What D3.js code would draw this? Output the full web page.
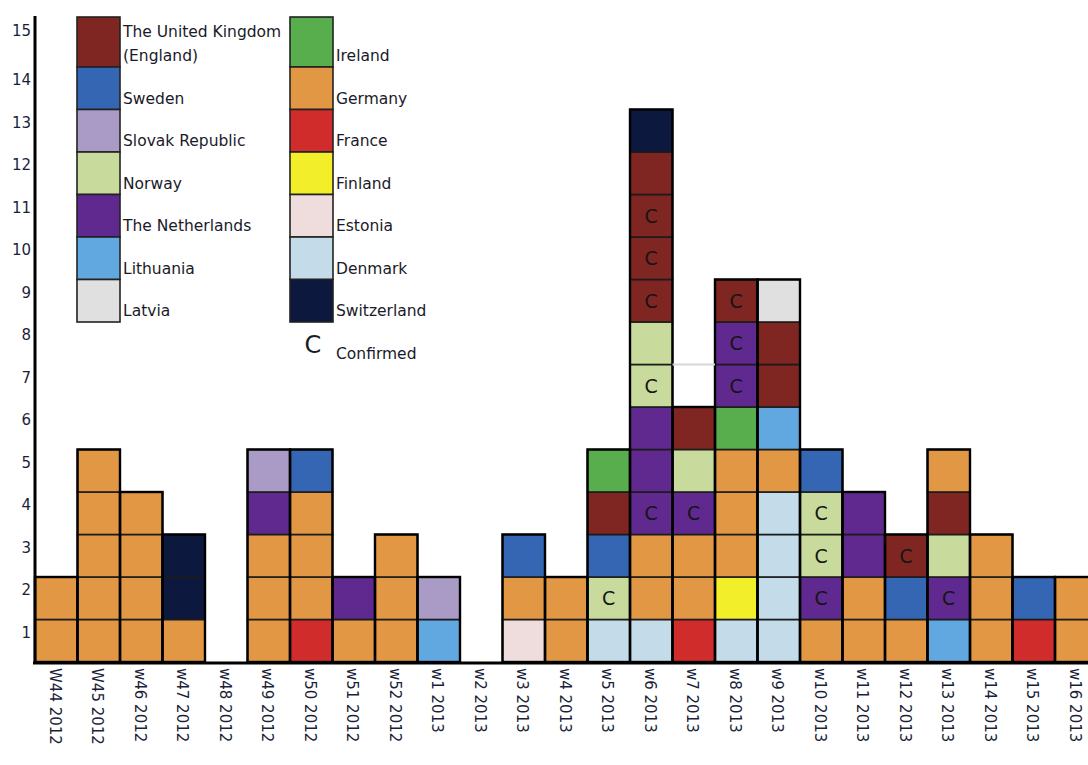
<!DOCTYPE html>
<html>
<head>
<meta charset="utf-8">
<script src="https://cdn.jsdelivr.net/npm/d3@7"></script>
<style>
  html, body { margin: 0; padding: 0; background: #fff; }
  svg { display: block; }
  text { font-family: "DejaVu Sans", Verdana, sans-serif; }
</style>
</head>
<body>
<svg id="chart" width="1088" height="765"></svg>
<script>
// ---- data ----
const weeks = ["W44 2012","W45 2012","w46 2012","w47 2012","w48 2012","w49 2012","w50 2012","w51 2012","w52 2012",
  "w1 2013","w2 2013","w3 2013","w4 2013","w5 2013","w6 2013","w7 2013","w8 2013","w9 2013","w10 2013",
  "w11 2013","w12 2013","w13 2013","w14 2013","w15 2013","w16 2013"];

const countryCodes = ["UK","SE","SK","NO","NL","LT","LV","IE","DE","FR","FI","EE","DK","CH"];
const countryNames = ["The United Kingdom\n(England)","Sweden","Slovak Republic","Norway","The Netherlands","Lithuania","Latvia",
  "Ireland","Germany","France","Finland","Estonia","Denmark","Switzerland"];
const countryColors = ["#7f2522","#3566b3","#a99bc6","#c8da9c","#5f2990","#62a8e0","#e0e0e0",
  "#58ae4c","#e19743","#d02c2c","#f2ee29","#efdcdc","#c4dcea","#0c183e"];

// cases per week, bottom to top; "*" marks a confirmed case
const weekCases = [
  ["DE","DE"],
  ["DE","DE","DE","DE","DE"],
  ["DE","DE","DE","DE"],
  ["DE","CH","CH"],
  [],
  ["DE","DE","DE","NL","SK"],
  ["FR","DE","DE","DE","SE"],
  ["DE","NL"],
  ["DE","DE","DE"],
  ["LT","SK"],
  [],
  ["EE","DE","SE"],
  ["DE","DE"],
  ["DK","NO*","SE","UK","IE"],
  ["DK","DE","DE","NL*","NL","NL","NO*","NO","UK*","UK*","UK*","UK","CH"],
  ["FR","DE","DE","NL*","NO","UK"],
  ["DK","FI","DE","DE","DE","IE","NL*","NL*","UK*"],
  ["DK","DK","DK","DK","DE","LT","UK","UK","LV"],
  ["DE","NL*","NO*","NO*","SE"],
  ["DE","DE","NL","NL"],
  ["DE","SE","UK*"],
  ["LT","NL*","NO","UK","DE"],
  ["DE","DE","DE"],
  ["FR","SE"],
  ["DE","DE"]
];

const yTicks = [1,2,3,4,5,6,7,8,9,10,11,12,13,14,15];
const legendLeft = ["UK","SE","SK","NO","NL","LT","LV"];
const legendRight = ["IE","DE","FR","FI","EE","DK","CH"];
const confirmedLabel = "Confirmed";

// ---- layout ----
const svg = d3.select("#chart");
const x0 = 35, cell = 42.5, baseY = 662;
const x = d3.scaleBand().domain(weeks).range([x0, x0 + cell * weeks.length]).padding(0);
const y = d3.scaleLinear().domain([0, 15]).range([baseY, baseY - cell * 15]);
const color = d3.scaleOrdinal().domain(countryCodes).range(countryColors);
const nameOf = d3.scaleOrdinal().domain(countryCodes).range(countryNames);

// cells
const cells = [];
weekCases.forEach((arr, i) => {
  arr.forEach((c, j) => {
    const conf = c.endsWith("*");
    cells.push({ week: weeks[i], code: conf ? c.slice(0, -1) : c, conf, level: j });
  });
});

const gCells = svg.append("g");
gCells.selectAll("rect").data(cells).join("rect")
  .attr("x", d => x(d.week))
  .attr("y", d => y(d.level + 1))
  .attr("width", x.bandwidth())
  .attr("height", y(0) - y(1))
  .attr("fill", d => color(d.code))
  .attr("stroke", "#1c1c1c")
  .attr("stroke-width", 1.6);

// column outlines
svg.append("g").selectAll("rect").data(weekCases.map((a, i) => ({ week: weeks[i], n: a.length })).filter(d => d.n > 0))
  .join("rect")
  .attr("x", d => x(d.week))
  .attr("y", d => y(d.n))
  .attr("width", x.bandwidth())
  .attr("height", d => y(0) - y(d.n))
  .attr("fill", "none")
  .attr("stroke", "#000")
  .attr("stroke-width", 2.4);

// faint gray line artifact between w6 and w8 at level 7
svg.append("line")
  .attr("x1", x("w7 2013")).attr("x2", x("w8 2013"))
  .attr("y1", y(7)).attr("y2", y(7))
  .attr("stroke", "#d8d8d8").attr("stroke-width", 2);

// C labels
svg.append("g").selectAll("text").data(cells.filter(d => d.conf)).join("text")
  .attr("x", d => x(d.week) + x.bandwidth() / 2)
  .attr("y", d => y(d.level + 0.5))
  .attr("dy", "0.36em")
  .attr("text-anchor", "middle")
  .attr("font-size", 19)
  .attr("fill", "#151515")
  .text("C");

// axes
svg.append("line").attr("x1", x0).attr("x2", x0).attr("y1", 16).attr("y2", baseY + 2)
  .attr("stroke", "#000").attr("stroke-width", 3);
svg.append("line").attr("x1", x0 - 2).attr("x2", 1088).attr("y1", baseY + 1).attr("y2", baseY + 1)
  .attr("stroke", "#000").attr("stroke-width", 3);

// y tick labels
svg.append("g").selectAll("text").data(yTicks).join("text")
  .attr("x", 31)
  .attr("y", d => d === 15 ? y(d) + 6 : y(d) + 13)
  .attr("dy", "0.36em")
  .attr("text-anchor", "end")
  .attr("font-size", 15)
  .attr("fill", "#1b1f3a")
  .text(d => d);

// x tick labels (rotated clockwise)
svg.append("g").selectAll("text").data(weeks).join("text")
  .attr("transform", d => `translate(${x(d) + x.bandwidth() / 2 - 1.5},668) rotate(90)`)
  .attr("dy", "0.35em")
  .attr("text-anchor", "start")
  .attr("font-size", 15)
  .attr("fill", "#1b1f3a")
  .text(d => d);

// legend
function legendColumn(codes, bx, tx) {
  const g = svg.append("g");
  codes.forEach((c, i) => {
    const top = i === 0 ? 17 : 67 + (i - 1) * cell;
    const bottom = 67 + i * cell;
    g.append("rect").attr("x", bx).attr("y", top).attr("width", 43).attr("height", bottom - top)
      .attr("fill", color(c)).attr("stroke", "#222").attr("stroke-width", 1.6);
    const lines = nameOf(c).split("\n");
    if (lines.length === 2) {
      g.append("text").attr("x", tx).attr("y", bottom - 30).attr("font-size", 15.5).attr("fill", "#1a1a2a").text(lines[0]);
      g.append("text").attr("x", tx).attr("y", bottom - 6).attr("font-size", 15.5).attr("fill", "#1a1a2a").text(lines[1]);
    } else {
      g.append("text").attr("x", tx).attr("y", bottom - 6).attr("font-size", 15.5).attr("fill", "#1a1a2a").text(lines[0]);
    }
  });
}
legendColumn(legendLeft, 77, 123);
legendColumn(legendRight, 290, 336);

svg.append("text").attr("x", 313).attr("y", 344).attr("dy", "0.36em").attr("text-anchor", "middle")
  .attr("font-size", 24).attr("fill", "#1a1a2a").text("C");
svg.append("text").attr("x", 336).attr("y", 359).attr("font-size", 15.5).attr("fill", "#1a1a2a").text(confirmedLabel);
</script>
</body>
</html>
